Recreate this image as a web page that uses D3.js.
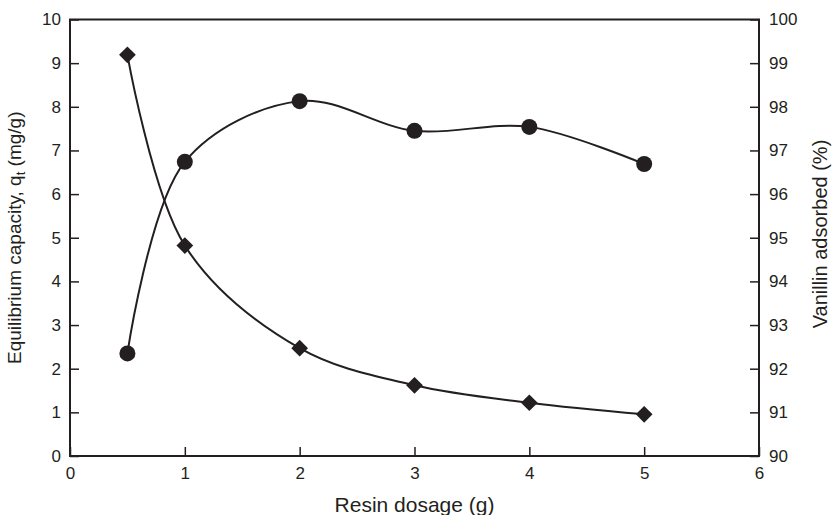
<!DOCTYPE html>
<html>
<head>
<meta charset="utf-8">
<script src="https://cdn.jsdelivr.net/npm/d3@7"></script>
<style>
  html, body { margin: 0; padding: 0; background: #fff; }
  svg { display: block; }
  text { font-family: Arial, "Liberation Sans", Helvetica, sans-serif; fill: #231f20; }
</style>
</head>
<body>
<svg id="chart" width="833" height="515"></svg>
<script>
// Data
const dosage = [0.5, 1, 2, 3, 4, 5];
const capacity = [9.19, 4.82, 2.47, 1.62, 1.22, 0.955];     // left axis (mg/g)
const adsorbed = [92.35, 96.74, 98.13, 97.45, 97.54, 96.69]; // right axis (%)
const xTicks = [0, 1, 2, 3, 4, 5, 6];
const yLeftTicks = [0, 1, 2, 3, 4, 5, 6, 7, 8, 9, 10];
const yRightTicks = [90, 91, 92, 93, 94, 95, 96, 97, 98, 99, 100];

const ink = "#231f20";
const svg = d3.select("#chart");
const m = { left: 70, right: 759, top: 19.5, bottom: 456 };

const x = d3.scaleLinear().domain([0, 6]).range([m.left, m.right]);
const yL = d3.scaleLinear().domain([0, 10]).range([m.bottom, m.top]);
const yR = d3.scaleLinear().domain([90, 100]).range([m.bottom, m.top]);

function styleAxis(g) {
  g.selectAll(".domain").remove();
  g.selectAll(".tick line").attr("stroke", ink).attr("stroke-width", 1.5);
  g.selectAll(".tick text").attr("font-size", 17).attr("fill", ink)
    .style("font-family", 'Arial, "Liberation Sans", sans-serif');
}

// X axis
const gx = svg.append("g").attr("transform", `translate(0,${m.bottom})`)
  .call(d3.axisBottom(x).tickValues(xTicks).tickFormat(d3.format("d"))
    .tickSizeInner(-9).tickSizeOuter(0).tickPadding(11));
styleAxis(gx);

// Left axis
const gl = svg.append("g").attr("transform", `translate(${m.left},0)`)
  .call(d3.axisLeft(yL).tickValues(yLeftTicks).tickFormat(d3.format("d"))
    .tickSizeInner(-9).tickSizeOuter(0).tickPadding(9));
styleAxis(gl);

// Right axis
const gr = svg.append("g").attr("transform", `translate(${m.right},0)`)
  .call(d3.axisRight(yR).tickValues(yRightTicks).tickFormat(d3.format("d"))
    .tickSizeInner(-9).tickSizeOuter(0).tickPadding(10));
styleAxis(gr);

// Frame
svg.append("path")
  .attr("d", `M${m.left},${m.top}V${m.bottom}H${m.right}V${m.top}Z`)
  .attr("fill", "none").attr("stroke", ink).attr("stroke-width", 2);

// Lines
const lineL = d3.line().x((d, i) => x(dosage[i])).y(d => yL(d)).curve(d3.curveCatmullRom.alpha(0.5));
const lineR = d3.line().x((d, i) => x(dosage[i])).y(d => yR(d)).curve(d3.curveCatmullRom.alpha(0.5));

svg.append("path").attr("d", lineL(capacity))
  .attr("fill", "none").attr("stroke", ink).attr("stroke-width", 2);
svg.append("path").attr("d", lineR(adsorbed))
  .attr("fill", "none").attr("stroke", ink).attr("stroke-width", 2);

// Markers
const diamond = d3.symbol().type(d3.symbolSquare).size(140);
svg.selectAll(".dia").data(capacity).enter().append("path")
  .attr("d", diamond)
  .attr("transform", (d, i) => `translate(${x(dosage[i])},${yL(d)}) rotate(45)`)
  .attr("fill", ink);

svg.selectAll(".cir").data(adsorbed).enter().append("circle")
  .attr("cx", (d, i) => x(dosage[i])).attr("cy", d => yR(d)).attr("r", 8)
  .attr("fill", ink);

// Axis titles
svg.append("text").attr("x", (m.left + m.right) / 2).attr("y", 512)
  .attr("text-anchor", "middle").attr("font-size", 21).text("Resin dosage (g)");

const lt = svg.append("text")
  .attr("transform", `translate(21,${(m.top + m.bottom) / 2}) rotate(-90)`)
  .attr("text-anchor", "middle").attr("font-size", 19);
lt.append("tspan").text("Equilibrium capacity, q");
lt.append("tspan").attr("font-size", 13).attr("dy", 4).text("t");
lt.append("tspan").attr("dy", -4).text(" (mg/g)");

svg.append("text")
  .attr("transform", `translate(827,234) rotate(-90)`)
  .attr("text-anchor", "middle").attr("font-size", 20).text("Vanillin adsorbed (%)");
</script>
</body>
</html>
